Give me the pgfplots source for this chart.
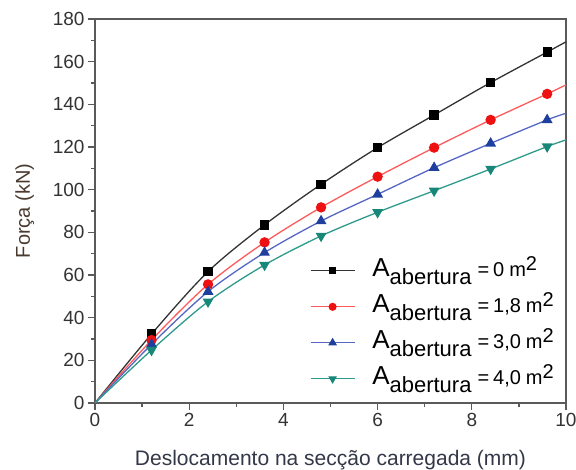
\documentclass[border=0pt]{standalone}
\usepackage{fontspec}
\setmainfont{Liberation Sans}
\usepackage{pgfplots}
\pgfplotsset{compat=1.18}
\definecolor{axgray}{HTML}{5A5A5A}
\definecolor{tickc}{HTML}{333333}
\definecolor{ylabc}{HTML}{4A3A30}
\definecolor{xlabc}{HTML}{333848}
\definecolor{blkline}{HTML}{333333}
\definecolor{redline}{HTML}{FF5A5A}
\definecolor{redmark}{HTML}{EE1111}
\definecolor{blueline}{HTML}{5566C4}
\definecolor{bluemark}{HTML}{1F3F9F}
\definecolor{tealline}{HTML}{2E9A8C}
\definecolor{tealmark}{HTML}{17877A}
\newcommand{\leg}[1]{\fontsize{26}{26}\selectfont A\raisebox{-8pt}{\fontsize{22}{22}\selectfont abertura}\hspace{6pt}\fontsize{20}{20}\selectfont=\hspace{4pt}#1\hspace{5pt}m\raisebox{6pt}{\fontsize{20}{20}\selectfont 2}}
\begin{document}
\begin{tikzpicture}
\begin{axis}[
  scale only axis, width=471pt, height=384pt,
  xmin=0, xmax=10, ymin=0, ymax=180,
  xtick={0,2,...,10}, ytick={0,20,...,180},
  minor x tick num=1, minor y tick num=1,
  tick align=outside, major tick length=7pt, minor tick length=4pt,
  xtick pos=bottom, ytick pos=left,
  axis line style={axgray, line width=1.5pt},
  every tick/.style={axgray, line width=1.3pt},
  ticklabel style={font=\fontsize{19}{19}\selectfont, text=tickc},
  /pgf/number format/assume math mode=true,
  xlabel={Deslocamento na secção carregada (mm)},
  ylabel={Força (kN)},
  xlabel style={font=\fontsize{21}{21}\selectfont, text=xlabc, at={(axis description cs:0.5,-0.1615)}, anchor=base},
  ylabel style={font=\fontsize{20}{20}\selectfont, text=ylabc, at={(axis description cs:-0.138,0.5)}, anchor=base},
  legend cell align=left,
  legend style={draw=none, fill=none, at={(axis description cs:1,0)}, anchor=south east, xshift=-10pt, yshift=6pt, inner sep=2pt, row sep=6pt, column sep=17pt,
    nodes={inner sep=0pt, text height=20pt, text depth=10pt, anchor=base west}},
  legend image code/.code={\draw[mark indices={2}, /tikz/every mark/.append style={scale=0.75}] plot coordinates {(0pt,6pt) (22pt,6pt) (44pt,6pt)};},
]
\addplot[blkline, line width=1.3pt, smooth, mark=square*, mark size=4pt, mark options={black, fill=black}, mark indices={2,...,9}]
  coordinates {(0,0)(1.2,32.3)(2.4,61.6)(3.6,83.5)(4.8,102.5)(6.0,119.7)(7.2,135)(8.4,150.2)(9.6,164.5)(10,169.3)};
\addlegendentry{\leg{0}}
\addplot[redline, line width=1.3pt, smooth, mark=*, mark size=4.5pt, mark options={redmark, fill=redmark}, mark indices={2,...,9}]
  coordinates {(0,0)(1.2,29.5)(2.4,55.6)(3.6,75.3)(4.8,91.7)(6,106.1)(7.2,119.7)(8.4,132.7)(9.6,144.9)(10,149.1)};
\addlegendentry{\leg{1,8}}
\addplot[blueline, line width=1.3pt, smooth, mark=triangle*, mark size=5pt, mark options={bluemark, fill=bluemark}, mark indices={2,...,9}]
  coordinates {(0,0)(1.2,27.5)(2.4,52.2)(3.6,70.5)(4.8,85.3)(6,97.8)(7.2,110.3)(8.4,121.7)(9.6,132.7)(10,135.8)};
\addlegendentry{\leg{3,0}}
\addplot[tealline, line width=1.3pt, smooth, mark=triangle*, mark size=5pt, mark options={tealmark, fill=tealmark, rotate=180}, mark indices={2,...,9}]
  coordinates {(0,0)(1.2,24.8)(2.4,47.5)(3.6,64.7)(4.8,78.3)(6,89.4)(7.2,99.5)(8.4,109.7)(9.6,120.2)(10,123.3)};
\addlegendentry{\leg{4,0}}
\end{axis}
\pgfresetboundingbox
\path ([shift={(-95pt,-67pt)}]current axis.south west) rectangle ([shift={(10pt,19pt)}]current axis.north east);
\end{tikzpicture}
\end{document}
